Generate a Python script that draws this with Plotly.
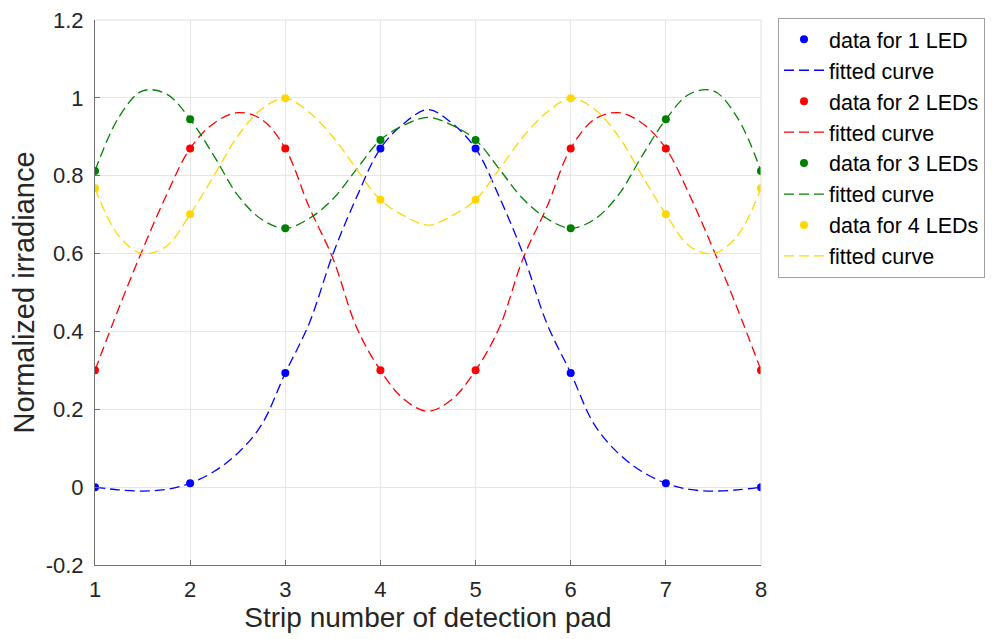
import plotly.graph_objects as go

strips = [1, 2, 3, 4, 5, 6, 7, 8]
data_1led = [0.0, 0.010, 0.293, 0.870, 0.870, 0.293, 0.010, 0.0]
data_2led = [0.300, 0.870, 0.870, 0.300, 0.300, 0.870, 0.870, 0.300]
data_3led = [0.812, 0.945, 0.665, 0.892, 0.892, 0.665, 0.945, 0.812]
data_4led = [0.768, 0.701, 0.999, 0.738, 0.738, 0.999, 0.701, 0.768]

fit_x = [1, 1.25, 1.5, 1.75, 2, 2.25, 2.5, 2.75, 3, 3.25, 3.5, 3.75, 4, 4.25, 4.5,
         4.75, 5, 5.25, 5.5, 5.75, 6, 6.25, 6.5, 6.75, 7, 7.25, 7.5, 7.75, 8]
fit_1led = [0.0, -0.007, -0.010, -0.006, 0.010, 0.040, 0.087, 0.160, 0.293, 0.420, 0.598, 0.745, 0.870, 0.935, 0.970,
            0.935, 0.870, 0.745, 0.598, 0.420, 0.293, 0.160, 0.087, 0.040, 0.010, -0.006, -0.010, -0.007, 0.0]
fit_2led = [0.300, 0.460, 0.610, 0.750, 0.870, 0.935, 0.962, 0.945, 0.870, 0.720, 0.588, 0.410, 0.300, 0.225, 0.195,
            0.225, 0.300, 0.410, 0.588, 0.720, 0.870, 0.945, 0.962, 0.935, 0.870, 0.750, 0.610, 0.460, 0.300]
fit_3led = [0.812, 0.950, 1.018, 1.010, 0.945, 0.851, 0.750, 0.688, 0.665, 0.690, 0.740, 0.817, 0.892, 0.930, 0.950,
            0.930, 0.892, 0.817, 0.740, 0.690, 0.665, 0.688, 0.750, 0.851, 0.945, 1.010, 1.018, 0.950, 0.812]
fit_4led = [0.768, 0.645, 0.600, 0.619, 0.701, 0.800, 0.902, 0.971, 0.999, 0.963, 0.900, 0.817, 0.738, 0.697, 0.673,
            0.697, 0.738, 0.817, 0.900, 0.963, 0.999, 0.971, 0.902, 0.800, 0.701, 0.619, 0.600, 0.645, 0.768]

y_ticks = [-0.2, 0, 0.2, 0.4, 0.6, 0.8, 1, 1.2]
y_ticktext = ["-0.2", "0", "0.2", "0.4", "0.6", "0.8", "1", "1.2"]

names = ["data for 1 LED", "data for 2 LEDs", "data for 3 LEDs", "data for 4 LEDs"]
colors = ["#0000FF", "#FF0000", "#008000", "#FFD700"]
datas = [data_1led, data_2led, data_3led, data_4led]
fits = [fit_1led, fit_2led, fit_3led, fit_4led]

FONT = "Liberation Sans, Arial, sans-serif"
fig = go.Figure()
for name, col, d, f in zip(names, colors, datas, fits):
    fig.add_trace(go.Scatter(x=strips, y=d, mode="markers", name=name,
                             marker=dict(color=col, size=8)))
    fig.add_trace(go.Scatter(x=fit_x, y=f, mode="lines", name="fitted curve",
                             line=dict(color=col, width=1.3, dash="10px,5px", shape="spline", smoothing=1.0)))

tick_font = dict(family=FONT, size=22, color="#262626")
fig.update_layout(
    width=990, height=631,
    margin=dict(l=87, r=237, t=12, b=74, autoexpand=False),
    plot_bgcolor="white", paper_bgcolor="white",
    font=dict(family=FONT, color="#262626"),
    showlegend=True,
    legend=dict(x=1.0255, y=1.004, xanchor="left", yanchor="top",
                bordercolor="#A0A0A0", borderwidth=1, bgcolor="white",
                font=dict(family=FONT, size=21.5, color="#000000"), tracegroupgap=0,
                traceorder="normal", itemwidth=40),
    shapes=[
        dict(type="line", xref="paper", yref="paper", x0=0, x1=1, y0=1, y1=1,
             line=dict(color="#E0E0E0", width=1)),
        dict(type="line", xref="paper", yref="paper", x0=1, x1=1, y0=0, y1=1,
             line=dict(color="#E0E0E0", width=1)),
    ],
)
fig.update_xaxes(range=[1, 8], tickvals=strips, ticks="inside", ticklen=5,
                 tickcolor="#707070", showline=True, linecolor="#707070", linewidth=1,
                 showgrid=True, gridcolor="#E6E6E6", gridwidth=1, zeroline=False,
                 tickfont=tick_font, ticklabelstandoff=5, automargin=False,
                 ticklabeloverflow="allow",
                 title=dict(text="Strip number of detection pad",
                            font=dict(family=FONT, size=28, color="#262626"), standoff=4))
fig.update_yaxes(range=[-0.2, 1.2], tickvals=y_ticks, ticktext=y_ticktext,
                 ticks="inside", ticklen=5, tickcolor="#707070",
                 showline=True, linecolor="#707070", linewidth=1,
                 showgrid=True, gridcolor="#E6E6E6", gridwidth=1, zeroline=False,
                 tickfont=tick_font, ticklabelstandoff=6, automargin=False,
                 ticklabeloverflow="allow",
                 title=dict(text="Normalized irradiance",
                            font=dict(family=FONT, size=29, color="#262626"), standoff=4))

fig.write_html("out.html")
